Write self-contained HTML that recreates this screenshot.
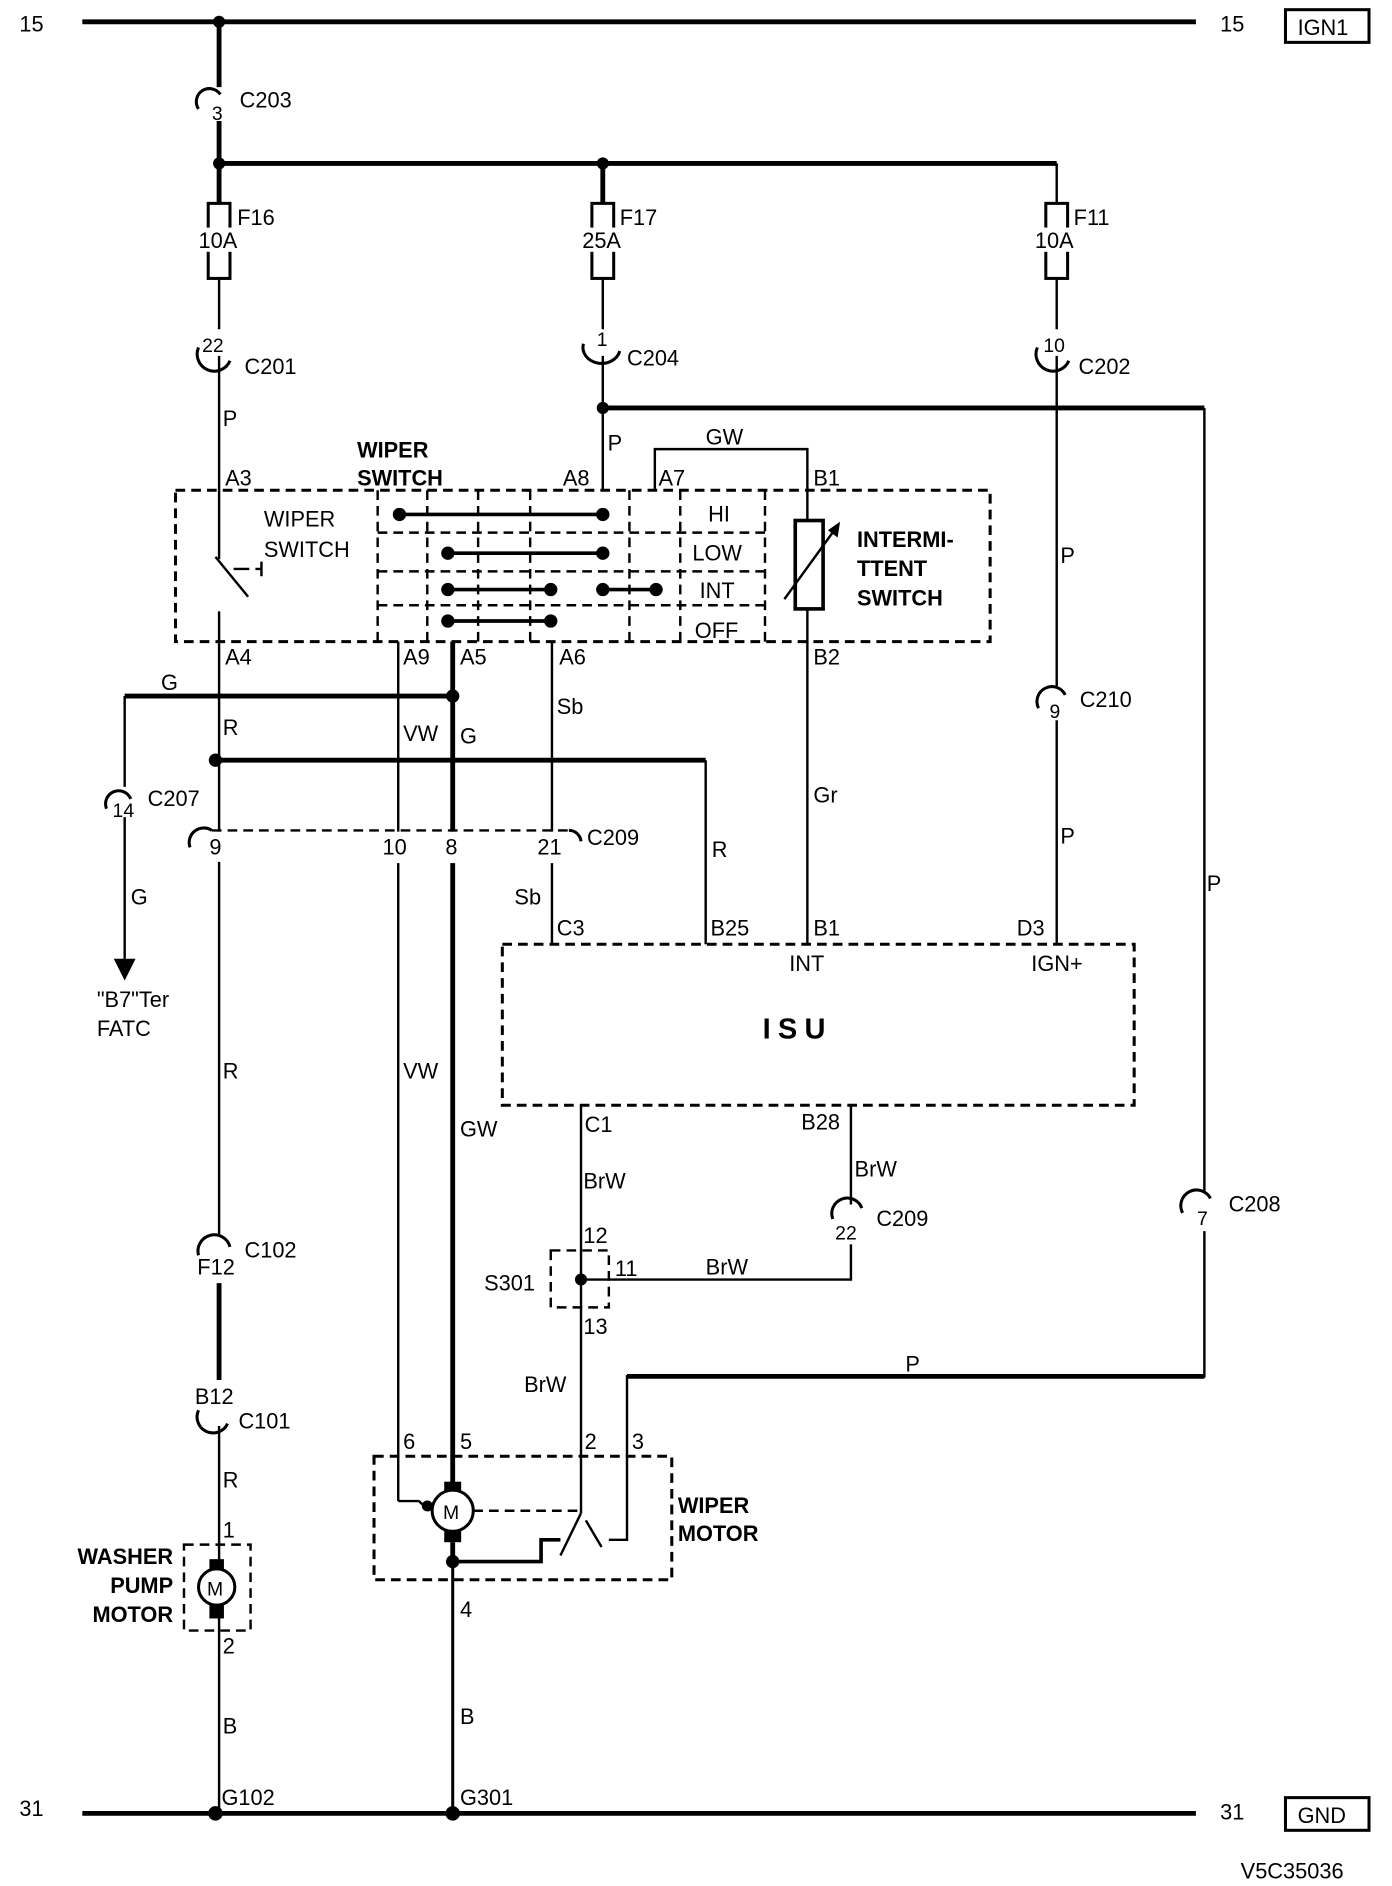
<!DOCTYPE html>
<html><head><meta charset="utf-8"><style>
html,body{margin:0;padding:0;background:#fff;}
svg{display:block;}
text{font-family:"Liberation Sans",sans-serif;font-size:18px;fill:#000;}
.b{font-weight:bold;}
.tk{stroke:#000;stroke-width:4;fill:none;}
.tn{stroke:#000;stroke-width:2;fill:none;}
.ds{stroke:#000;stroke-width:2.5;fill:none;stroke-dasharray:8 5;}
.ar{stroke:#000;stroke-width:2.5;fill:none;}
</style></head><body>
<svg width="1392" height="1886" viewBox="0 0 1150 1558" preserveAspectRatio="none" xmlns="http://www.w3.org/2000/svg">
<line class="tk" x1="68" y1="18" x2="988" y2="18"/>
<text x="16" y="26">15</text><text x="1008" y="26">15</text>
<rect x="1062" y="8" width="69" height="27" fill="none" stroke="#000" stroke-width="2.5"/>
<text x="1072" y="29">IGN1</text>
<circle cx="181" cy="18" r="5"/>
<line class="tk" x1="181" y1="18" x2="181" y2="72"/>
<path class="ar" d="M164 90 A9 9 0 0 1 182 78"/><text x="175" y="99" style="font-size:16px">3</text><text x="198" y="89">C203</text>
<line class="tk" x1="181" y1="100" x2="181" y2="168"/>
<line class="tk" x1="181" y1="135" x2="873" y2="135"/>
<circle cx="181" cy="135" r="5"/><circle cx="498" cy="135" r="5"/>
<line class="tk" x1="498" y1="135" x2="498" y2="168"/>
<line class="tn" x1="873" y1="135" x2="873" y2="168"/>
<g>
<rect x="172" y="168" width="18" height="62" fill="#fff" stroke="#000" stroke-width="2.5"/><rect x="163" y="188" width="36" height="20" fill="#fff"/>
<text x="164" y="205">10A</text><text x="196" y="186">F16</text>
<rect x="489" y="168" width="18" height="62" fill="#fff" stroke="#000" stroke-width="2.5"/><rect x="480" y="188" width="36" height="20" fill="#fff"/>
<text x="481" y="205">25A</text><text x="512" y="186">F17</text>
<rect x="864" y="168" width="18" height="62" fill="#fff" stroke="#000" stroke-width="2.5"/><rect x="855" y="188" width="36" height="20" fill="#fff"/>
<text x="855" y="205">10A</text><text x="887" y="186">F11</text>
</g>
<line class="tn" x1="181" y1="230" x2="181" y2="405"/>
<line class="tn" x1="498" y1="230" x2="498" y2="405"/>
<line class="tn" x1="873" y1="230" x2="873" y2="568"/>
<rect x="165" y="272" width="34" height="22" fill="#fff"/>
<path class="ar" d="M164 287 A10 10 0 0 0 190 298"/><text x="167" y="291" style="font-size:16px">22</text><text x="202" y="309">C201</text>
<rect x="482" y="272" width="34" height="22" fill="#fff"/>
<path class="ar" d="M482 284 A14 12 0 0 0 512 290"/><text x="493" y="286" style="font-size:16px">1</text><text x="518" y="302">C204</text>
<rect x="856" y="272" width="34" height="22" fill="#fff"/>
<path class="ar" d="M857 287 A10 10 0 0 0 883 298"/><text x="862" y="291" style="font-size:16px">10</text><text x="891" y="309">C202</text>
<text x="184" y="352">P</text><text x="502" y="372">P</text>
<circle cx="498" cy="337" r="5"/>
<line class="tk" x1="498" y1="337" x2="995" y2="337"/>
<line class="tn" x1="995" y1="337" x2="995" y2="985"/>
<text x="997" y="736">P</text>
<rect class="ds" x="145" y="405" width="673" height="125"/>
<g class="ds" style="stroke-width:2">
<line x1="312" y1="405" x2="312" y2="530"/><line x1="353" y1="405" x2="353" y2="530"/>
<line x1="395" y1="405" x2="395" y2="530"/><line x1="438" y1="405" x2="438" y2="530"/>
<line x1="520" y1="405" x2="520" y2="530"/><line x1="562" y1="405" x2="562" y2="530"/>
<line x1="632" y1="405" x2="632" y2="530"/>
<line x1="312" y1="440" x2="632" y2="440"/><line x1="312" y1="472" x2="632" y2="472"/><line x1="312" y1="500" x2="632" y2="500"/>
</g>
<text x="585" y="431">HI</text><text x="572" y="463">LOW</text><text x="578" y="494">INT</text><text x="574" y="527">OFF</text>
<g stroke="#000" stroke-width="3">
<line x1="330" y1="425" x2="498" y2="425"/><line x1="370" y1="457" x2="498" y2="457"/>
<line x1="370" y1="487" x2="455" y2="487"/><line x1="498" y1="487" x2="542" y2="487"/>
<line x1="370" y1="513" x2="455" y2="513"/>
</g>
<g>
<circle cx="330" cy="425" r="5.5"/><circle cx="498" cy="425" r="5.5"/>
<circle cx="370" cy="457" r="5.5"/><circle cx="498" cy="457" r="5.5"/>
<circle cx="370" cy="487" r="5.5"/><circle cx="455" cy="487" r="5.5"/><circle cx="498" cy="487" r="5.5"/><circle cx="542" cy="487" r="5.5"/>
<circle cx="370" cy="513" r="5.5"/><circle cx="455" cy="513" r="5.5"/>
</g>
<text class="b" x="295" y="378">WIPER</text><text class="b" x="295" y="401">SWITCH</text>
<text x="186" y="401">A3</text><text x="465" y="401">A8</text><text x="544" y="401">A7</text><text x="672" y="401">B1</text>
<text x="583" y="367">GW</text>
<polyline class="tn" points="541,405 541,371 667,371 667,430"/>
<rect x="657" y="430" width="23" height="73" fill="#fff" stroke="#000" stroke-width="3"/>
<line class="tn" x1="648" y1="495" x2="690" y2="437"/>
<path d="M694 431 L684 438 L692 444 Z"/>
<line class="tn" x1="667" y1="503" x2="667" y2="780"/>
<text class="b" x="708" y="452">INTERMI-</text><text class="b" x="708" y="476">TTENT</text><text class="b" x="708" y="500">SWITCH</text>
<text x="218" y="435">WIPER</text><text x="218" y="460">SWITCH</text>
<line class="tn" x1="181" y1="405" x2="181" y2="462"/>
<line class="tn" x1="178" y1="460" x2="205" y2="493"/>
<path class="tn" d="M193 470 H206 M211 470 H216 M216 464 V476"/>
<line class="tn" x1="181" y1="505" x2="181" y2="705"/>
<text x="186" y="549">A4</text><text x="333" y="549">A9</text><text x="380" y="549">A5</text><text x="462" y="549">A6</text><text x="672" y="549">B2</text>
<line class="tn" x1="329" y1="530" x2="329" y2="1240"/>
<line class="tk" x1="374" y1="530" x2="374" y2="1228"/>
<line class="tn" x1="456" y1="530" x2="456" y2="780"/>
<line class="tk" x1="103" y1="575" x2="374" y2="575"/>
<circle cx="374" cy="575" r="5.5"/>
<line class="tn" x1="103" y1="575" x2="103" y2="792"/>
<path d="M94 792 L112 792 L103 810 Z"/>
<text x="133" y="570">G</text><text x="108" y="747">G</text>
<rect x="88" y="650" width="30" height="25" fill="#fff"/>
<path class="ar" d="M88 668 A10 10 0 0 1 108 660"/><text x="93" y="675" style="font-size:16px">14</text><text x="122" y="666">C207</text>
<text x="80" y="832">"B7"Ter</text><text x="80" y="856">FATC</text>
<circle cx="178" cy="628" r="5.5"/>
<line class="tk" x1="178" y1="628" x2="583" y2="628"/>
<line class="tn" x1="583" y1="628" x2="583" y2="780"/>
<text x="184" y="607">R</text><text x="588" y="708">R</text>
<text x="333" y="612">VW</text><text x="380" y="614">G</text><text x="460" y="590">Sb</text><text x="672" y="663">Gr</text>
<rect x="150" y="687" width="330" height="26" fill="#fff"/>
<line class="ds" x1="175" y1="686" x2="470" y2="686" style="stroke-width:2"/>
<path class="ar" d="M157 700 A12 12 0 0 1 175 686"/><path class="ar" d="M470 686 A10 10 0 0 1 480 695"/>
<text x="173" y="706">9</text><text x="316" y="706">10</text><text x="368" y="706">8</text><text x="444" y="706">21</text><text x="485" y="698">C209</text>
<line class="tn" x1="181" y1="712" x2="181" y2="1030"/>
<text x="425" y="747">Sb</text>
<text x="184" y="891">R</text><text x="333" y="891">VW</text><text x="380" y="939">GW</text>
<rect class="ds" x="415" y="780" width="522" height="133"/>
<text x="460" y="773">C3</text><text x="587" y="773">B25</text><text x="672" y="773">B1</text><text x="840" y="773">D3</text>
<text x="652" y="802">INT</text><text x="852" y="802">IGN+</text>
<text class="b" x="630" y="858" style="font-size:24px;letter-spacing:6px">ISU</text>
<rect x="858" y="568" width="30" height="24" fill="#fff"/>
<path class="ar" d="M858 585 A10 10 0 0 1 880 574"/><text x="867" y="593" style="font-size:16px">9</text><text x="892" y="584">C210</text>
<line class="tn" x1="873" y1="595" x2="873" y2="780"/>
<text x="876" y="465">P</text><text x="876" y="697">P</text>
<line class="tn" x1="480" y1="913" x2="480" y2="1250"/>
<line class="tn" x1="703" y1="913" x2="703" y2="995"/>
<text x="483" y="935">C1</text><text x="662" y="933">B28</text>
<text x="482" y="982">BrW</text><text x="706" y="972">BrW</text>
<path class="ar" d="M688 1007 A10 10 0 0 1 712 998"/><text x="690" y="1024" style="font-size:16px">22</text><text x="724" y="1013">C209</text>
<polyline class="tn" points="703,1028 703,1057 480,1057"/>
<circle cx="480" cy="1057" r="5"/>
<rect class="ds" x="455" y="1033" width="48" height="47" style="stroke-width:2"/>
<text x="482" y="1027">12</text><text x="508" y="1054">11</text><text x="482" y="1102">13</text><text x="400" y="1066">S301</text>
<text x="583" y="1053">BrW</text><text x="433" y="1150">BrW</text>
<rect x="978" y="985" width="30" height="32" fill="#fff"/>
<path class="ar" d="M977 1002 A10 10 0 0 1 1000 990"/><text x="989" y="1012" style="font-size:16px">7</text><text x="1015" y="1001">C208</text>
<polyline class="tn" points="995,1017 995,1137 518,1137 518,1272 503,1272"/>
<line class="tk" x1="518" y1="1137" x2="995" y2="1137"/>
<text x="748" y="1133">P</text>
<rect class="ds" x="309" y="1203" width="246" height="102"/>
<text x="333" y="1197">6</text><text x="380" y="1197">5</text><text x="483" y="1197">2</text><text x="522" y="1197">3</text>
<text class="b" x="560" y="1250">WIPER</text><text class="b" x="560" y="1273">MOTOR</text>
<polyline class="tn" points="329,1240 346,1240 355,1248"/>
<circle cx="353" cy="1244" r="4.5"/>
<rect x="367" y="1224" width="14" height="10"/><rect x="367" y="1262" width="14" height="12"/>
<circle cx="374" cy="1248" r="17" fill="#fff" stroke="#000" stroke-width="2.5"/>
<text x="366" y="1255" style="font-size:16px">M</text>
<line class="ds" x1="391" y1="1248" x2="480" y2="1248" style="stroke-width:2"/>
<line class="tn" x1="480" y1="1250" x2="463" y2="1285"/>
<line class="tn" x1="484" y1="1256" x2="497" y2="1278"/>
<polyline class="tk" points="374,1290 447,1290 447,1272 463,1272" style="stroke-width:3"/>
<circle cx="374" cy="1290" r="5.5"/>
<line class="tk" x1="374" y1="1274" x2="374" y2="1292"/>
<line class="tn" x1="374" y1="1290" x2="374" y2="1498" style="stroke-width:2.5"/>
<text x="380" y="1336">4</text><text x="380" y="1424">B</text><text x="380" y="1491">G301</text>
<rect x="162" y="1020" width="36" height="40" fill="#fff"/>
<path class="ar" d="M164 1037 A10 10 0 0 1 190 1030"/><text x="163" y="1053">F12</text><text x="202" y="1039">C102</text>
<line class="tk" x1="181" y1="1060" x2="181" y2="1140"/>
<text x="161" y="1160">B12</text>
<path class="ar" d="M164 1165 A12 12 0 0 0 188 1176"/><text x="197" y="1180">C101</text>
<line class="tn" x1="181" y1="1178" x2="181" y2="1498"/>
<text x="184" y="1229">R</text><text x="184" y="1270">1</text><text x="184" y="1366">2</text><text x="184" y="1432">B</text><text x="183" y="1491">G102</text>
<rect class="ds" x="152" y="1276" width="55" height="71" style="stroke-width:2"/>
<rect x="173" y="1288" width="12" height="10"/><rect x="173" y="1325" width="12" height="12"/>
<circle cx="179" cy="1311" r="15" fill="#fff" stroke="#000" stroke-width="2.5"/>
<text x="171" y="1318" style="font-size:16px">M</text>
<text class="b" x="143" y="1292" text-anchor="end">WASHER</text><text class="b" x="143" y="1316" text-anchor="end">PUMP</text><text class="b" x="143" y="1340" text-anchor="end">MOTOR</text>
<line class="tk" x1="68" y1="1498" x2="988" y2="1498"/>
<circle cx="178" cy="1498" r="6"/><circle cx="374" cy="1498" r="6"/>
<text x="16" y="1500">31</text><text x="1008" y="1503">31</text>
<rect x="1062" y="1485" width="69" height="27" fill="none" stroke="#000" stroke-width="2.5"/>
<text x="1072" y="1506">GND</text>
<text x="1025" y="1552">V5C35036</text>
</svg>
</body></html>
